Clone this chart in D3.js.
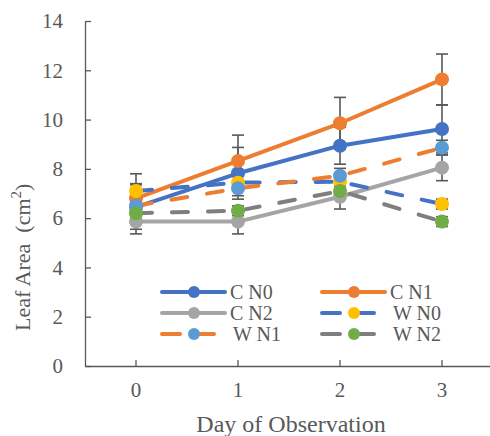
<!DOCTYPE html>
<html>
<head>
<meta charset="utf-8">
<script src="https://cdn.jsdelivr.net/npm/d3@7"></script>
<style>
  body { margin: 0; background: #fff; }
  text { font-family: "Liberation Serif", "Times New Roman", serif; fill: #595959; }
</style>
</head>
<body>
<div id="chart"></div>
<script>
// dias de observação
const days = [0, 1, 2, 3];
const yTicks = [0, 2, 4, 6, 8, 10, 12, 14];

// valores médios
const cN0 = [6.45, 7.82, 8.94, 9.62];
const cN1 = [6.8, 8.32, 9.85, 11.63];
const cN2 = [5.86, 5.86, 6.87, 8.05];
const wN0 = [7.1, 7.44, 7.48, 6.57];
const wN1 = [6.5, 7.21, 7.72, 8.86];
const wN2 = [6.2, 6.3, 7.1, 5.86];

// barras de erro (±)
const errCN0 = [0.9, 1.05, 0.75, 0.97];
const errCN1 = [1.0, 1.05, 1.05, 1.03];
const errCN2 = [0.5, 0.5, 0.5, 0.53];
const errWN0 = [0.3, 0.3, 0.3, 0.2];
const errWN1 = [0.3, 0.3, 0.3, 0.3];
const errWN2 = [0.2, 0.2, 0.2, 0.2];

const series = [
  { name: "C N0", values: cN0, err: errCN0, line: "#4472C4", marker: "#4472C4", dashed: false },
  { name: "C N1", values: cN1, err: errCN1, line: "#ED7D31", marker: "#ED7D31", dashed: false },
  { name: "C N2", values: cN2, err: errCN2, line: "#A5A5A5", marker: "#A5A5A5", dashed: false },
  { name: "W N0", values: wN0, err: errWN0, line: "#4472C4", marker: "#FFC000", dashed: true },
  { name: "W N1", values: wN1, err: errWN1, line: "#ED7D31", marker: "#5B9BD5", dashed: true },
  { name: "W N2", values: wN2, err: errWN2, line: "#7F7F7F", marker: "#70AD47", dashed: true }
];

const width = 490, height = 436;
const axisColor = "#595959";
const serif = "Liberation Serif, Times New Roman, serif";

const svg = d3.select("#chart").append("svg")
  .attr("width", width)
  .attr("height", height);

const x = d3.scaleBand().domain(days).range([85, 493]);
const cx = d => x(d) + x.bandwidth() / 2;
const y = d3.scaleLinear().domain([0, 14]).range([366, 21]);

// eixo Y
const yAxis = svg.append("g")
  .attr("transform", "translate(85,0)")
  .call(d3.axisLeft(y).tickValues(yTicks).tickSizeInner(-6).tickSizeOuter(0).tickPadding(22))
  .attr("font-family", serif);
yAxis.select(".domain").attr("stroke", axisColor).attr("stroke-width", 1.3);
yAxis.selectAll(".tick line").attr("stroke", axisColor).attr("stroke-width", 1.3);
yAxis.selectAll(".tick text").attr("font-size", 21).attr("fill", axisColor);

// eixo X
const xAxis = svg.append("g")
  .attr("transform", "translate(0,366)")
  .call(d3.axisBottom(x).tickSizeInner(-6).tickSizeOuter(0).tickPadding(16))
  .attr("font-family", serif);
xAxis.select(".domain").attr("stroke", axisColor).attr("stroke-width", 1.3);
xAxis.selectAll(".tick line").attr("stroke", axisColor).attr("stroke-width", 1.3);
xAxis.selectAll(".tick text").attr("font-size", 21).attr("fill", axisColor);

// títulos
svg.append("text")
  .attr("x", 291).attr("y", 432)
  .attr("text-anchor", "middle")
  .attr("font-size", 24)
  .text("Day of Observation");

const yl = svg.append("text")
  .attr("transform", "translate(30,331) rotate(-90)")
  .attr("text-anchor", "start")
  .attr("font-size", 22)
  .style("white-space", "pre");
yl.append("tspan").text("Leaf Area  (cm");
yl.append("tspan").attr("font-size", 15).attr("dy", -9).text("2");
yl.append("tspan").attr("dy", 9).text(")");

// barras de erro
const errG = svg.append("g");
series.forEach(s => {
  s.values.forEach((v, i) => {
    const px = cx(days[i]);
    errG.append("line")
      .attr("x1", px).attr("x2", px)
      .attr("y1", y(v + s.err[i])).attr("y2", y(v - s.err[i]))
      .attr("stroke", axisColor).attr("stroke-width", 1.6);
    [v + s.err[i], v - s.err[i]].forEach(e => {
      errG.append("line")
        .attr("x1", px - 6).attr("x2", px + 6)
        .attr("y1", y(e)).attr("y2", y(e))
        .attr("stroke", axisColor).attr("stroke-width", 1.6);
    });
  });
});

// linhas e marcadores
const line = d3.line().x((d, i) => cx(days[i])).y(d => y(d));
series.forEach(s => {
  svg.append("path")
    .datum(s.values)
    .attr("d", line)
    .attr("fill", "none")
    .attr("stroke", s.line)
    .attr("stroke-width", 4)
    .attr("stroke-linecap", "round")
    .attr("stroke-linejoin", "round")
    .attr("stroke-dasharray", s.dashed ? "16,20" : null);
  svg.append("g").selectAll("circle")
    .data(s.values)
    .join("circle")
    .attr("cx", (d, i) => cx(days[i]))
    .attr("cy", d => y(d))
    .attr("r", 7)
    .attr("fill", s.marker);
});

// legenda
const legCols = [162, 322];
const legRows = [292, 313, 334];
series.forEach((s, i) => {
  const lx = legCols[i % 2];
  const ly = legRows[Math.floor(i / 2)];
  const g = svg.append("g").attr("transform", `translate(${lx},${ly})`);
  g.append("line")
    .attr("x1", 0).attr("x2", 63)
    .attr("stroke", s.line).attr("stroke-width", 4)
    .attr("stroke-linecap", "round")
    .attr("stroke-dasharray", s.dashed ? "18,16" : null);
  g.append("circle").attr("cx", 32).attr("r", 6).attr("fill", s.marker);
  g.append("text")
    .attr("x", s.dashed ? 71 : 68).attr("y", 7)
    .attr("font-size", 20)
    .text(s.name);
});
</script>
</body>
</html>
